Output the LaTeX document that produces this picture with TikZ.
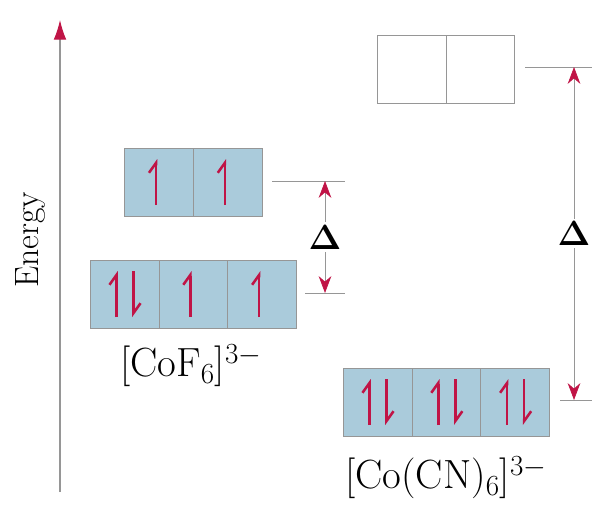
\documentclass[tikz,border=0pt]{standalone}
\usetikzlibrary{arrows.meta,positioning,calc}
\definecolor{orbblue}{RGB}{170,203,219}
\definecolor{spinred}{RGB}{192,20,70}
\definecolor{linegray}{RGB}{150,150,150}
% one electron up, one down (relative to a cell centre)
\newcommand{\upspin}[2]{\draw[spin] ($(#1)+(#2,23)$) -- ($(#1)+(#2,-23)$);}
\newcommand{\downspin}[2]{\draw[spin] ($(#1)+(#2,-23)$) -- ($(#1)+(#2,23)$);}
\begin{document}
\begin{tikzpicture}[x=0.025cm,y=-0.025cm,
    orb/.style={draw=linegray,fill=orbblue,minimum width=1.72cm,minimum height=1.7cm,inner sep=0pt,outer sep=0pt},
    emptyorb/.style={orb,fill=white},
    spin/.style={spinred,line width=1.8pt,-{Straight Barb[harpoon,length=7pt,width=10pt]}},
    level/.style={linegray,line width=0.6pt},
    gap/.style={linegray,line width=0.5pt,{Stealth[color=spinred,length=12pt,width=9pt]}-{Stealth[color=spinred,length=12pt,width=9pt]}},
    lbl/.style={text=black,font=\fontsize{29}{33}\selectfont},
    dlt/.style={text=black,fill=white,inner sep=2pt,font=\fontsize{24}{28}\selectfont}]
    \useasboundingbox (0,0) rectangle (597,506);
    % energy axis
    \coordinate (e0) at (60,492);
    \coordinate (e1) at (60,20);
    \draw[linegray,line width=0.8pt,-{Latex[color=spinred,length=14pt,width=9pt]}] (e0) -- (e1);
    \node[rotate=90,font=\fontsize{24}{28}\selectfont] (en) at (30,240) {Energy};

    % [CoF6]3- : high spin
    \node[orb] (fa) at (159,182) {};
    \node[orb,right=0pt of fa] (fb) {};
    \node[orb] (fc) at (124.5,294) {};
    \node[orb,right=0pt of fc] (fd) {};
    \node[orb,right=0pt of fd] (fe) {};
    \upspin{fa}{-3} \upspin{fb}{-3}
    \upspin{fc}{-8} \downspin{fc}{9}
    \upspin{fd}{-3} \upspin{fe}{-3}
    \coordinate (fu0) at (272,181); \coordinate (fu1) at (345,181);
    \coordinate (fl0) at (305,293); \coordinate (fl1) at (345,293);
    \draw[level] (fu0) -- (fu1);
    \draw[level] (fl0) -- (fl1);
    \coordinate (ft) at (325,181); \coordinate (fbt) at (325,293);
    \draw[gap] (ft) -- node[dlt] (fdelta) {$\mathbf{\Delta}$} (fbt);
    \node[lbl] (fname) at (191,366) {[CoF$_6$]$^{3-}$};

    % [Co(CN)6]3- : low spin
    \node[emptyorb] (ca) at (411.5,69) {};
    \node[emptyorb,right=0pt of ca] (cb) {};
    \node[orb] (cc) at (377.5,402) {};
    \node[orb,right=0pt of cc] (cd) {};
    \node[orb,right=0pt of cd] (ce) {};
    \upspin{cc}{-8} \downspin{cc}{9}
    \upspin{cd}{-8} \downspin{cd}{9}
    \upspin{ce}{-8} \downspin{ce}{9}
    \coordinate (cu0) at (525,67); \coordinate (cu1) at (592,67);
    \coordinate (cl0) at (560,400); \coordinate (cl1) at (592,400);
    \draw[level] (cu0) -- (cu1);
    \draw[level] (cl0) -- (cl1);
    \coordinate (ct) at (574,67); \coordinate (cbt) at (574,400);
    \draw[gap] (ct) -- node[dlt] (cdelta) {$\mathbf{\Delta}$} (cbt);
    \node[lbl] (cname) at (446,478) {[Co(CN)$_6$]$^{3-}$};
\end{tikzpicture}
\end{document}
